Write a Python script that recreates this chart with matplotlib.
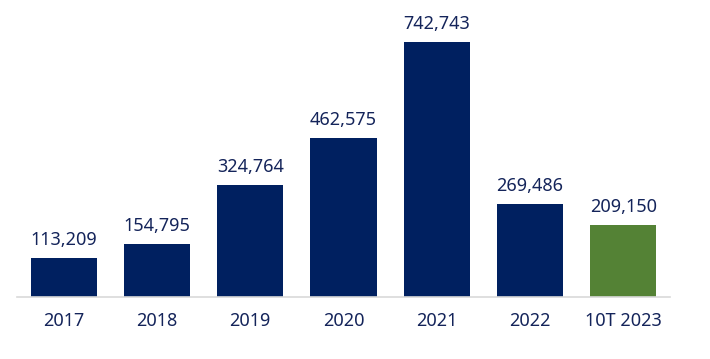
"""Bar chart of yearly values, last period highlighted."""

import matplotlib

matplotlib.use("Agg")
import matplotlib.pyplot as plt

categories = ["2017", "2018", "2019", "2020", "2021", "2022", "10T 2023"]
values = [113209, 154795, 324764, 462575, 742743, 269486, 209150]
bar_colors = ["#002060"] * 6 + ["#548235"]

TEXT_COLOR = "#14245a"

plt.rcParams["font.family"] = ["Noto Sans", "DejaVu Sans"]

fig = plt.figure(figsize=(7.1, 3.59), dpi=100)
ax = fig.add_axes([17 / 710, 62 / 359, 653 / 710, 297 / 359])

x = range(len(categories))
bars = ax.bar(x, values, width=0.71, color=bar_colors)

for bar, value in zip(bars, values):
    ax.annotate(
        f"{value:,}",
        (bar.get_x() + bar.get_width() / 2, bar.get_height()),
        xytext=(0, 13),
        textcoords="offset points",
        ha="center",
        va="center",
        fontsize=13,
        color=TEXT_COLOR,
    )

ax.set_xlim(-0.5, 6.5)
ax.set_ylim(0, 865000)
ax.set_xticks(list(x))
ax.set_xticklabels(categories, fontsize=13, color=TEXT_COLOR)
ax.tick_params(axis="x", length=0, pad=11)
ax.set_yticks([])

for side in ("top", "right", "left"):
    ax.spines[side].set_visible(False)
ax.spines["bottom"].set_color("#d9d9d9")
ax.spines["bottom"].set_linewidth(1.2)

fig.savefig("out.png", dpi=100)
